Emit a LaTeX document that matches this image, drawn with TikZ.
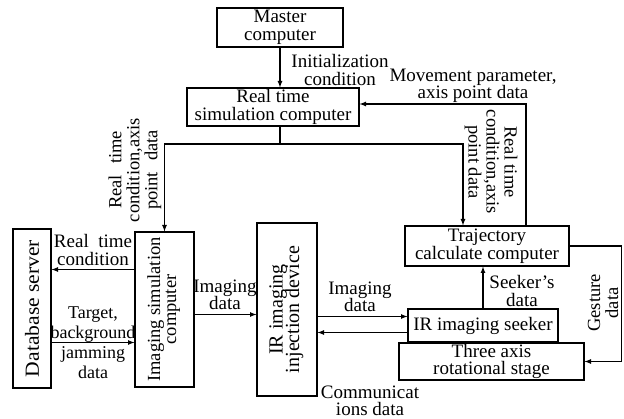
\documentclass[tikz,border=0pt]{standalone}
\usepackage{fontspec}
\setmainfont{Liberation Serif}
\usetikzlibrary{arrows,calc}

\begin{document}
\begin{tikzpicture}[x=1pt,y=-1pt,>=latex,line width=1.2pt,
	font=\fontsize{19}{17.5}\selectfont,
	box/.style={draw,inner sep=0pt,align=center},
	lbl/.style={align=center,inner sep=0pt},
	vlbl/.style={lbl,font=\fontsize{18.5}{18}\selectfont}]
	\useasboundingbox (0,0) rectangle (624,419);
	% blocks
	\node[box,minimum width=126pt,minimum height=39pt] (master) at (280,27.5) {Master\\computer};
	\node[box,minimum width=172pt,minimum height=38pt] (rt) at (273,107) {Real time\\simulation computer};
	\node[box,minimum width=38pt,minimum height=159pt] (db) at (32,308.5)
		{\rotatebox{90}{\fontsize{20}{18}\selectfont\scalebox{1.08}[1]{Database server}}};
	\node[box,minimum width=59pt,minimum height=155pt] (ims) at (164.5,309.5)
		{\rotatebox{90}{\fontsize{18.5}{18}\selectfont\begin{tabular}{@{}c@{}}Imaging simulation\\[-2pt]computer\end{tabular}}};
	\node[box,minimum width=60pt,minimum height=173pt] (inj) at (287,309.5)
		{\rotatebox{90}{\fontsize{20}{19}\selectfont\begin{tabular}{@{}c@{}}IR imaging\\[-3pt]injection device\end{tabular}}};
	\node[box,minimum width=164pt,minimum height=40pt] (traj) at (487,246) {Trajectory\\calculate computer};
	\node[box,minimum width=150pt,minimum height=33pt] (seeker) at (483,325.5) {IR imaging seeker};
	\node[box,minimum width=185pt,minimum height=37pt] (stage) at (491.5,361.5) {Three axis\\rotational stage};
	% labels
	\node[lbl] (init) at (340,70) {Initialization\\condition};
	\node[lbl] (move) at (473,86) {Movement parameter,\\axis point data};
	\node[vlbl,rotate=90] (rtl) at (135,170) {Real\hspace{0.6em}time\\condition,axis\\point\hspace{0.6em}data};
	\node[vlbl,rotate=-90] (rtr) at (491,162) {Real time\\condition,axis\\point data};
	\node[lbl] (rtc) at (93,250) {Real\hspace{0.5em}time\\condition};
	\node[lbl,font=\fontsize{18}{20}\selectfont] (tgt) at (93,343) {Target,\\background\\jamming\\data};
	\node[lbl] (imd) at (225,295) {Imaging\\data};
	\node[lbl] (imd2) at (360,297) {Imaging\\data};
	\node[lbl] (comm) at (370,401) {Communicat\\ions data};
	\node[lbl] (seek) at (522,291) {Seeker's\\data};
	\node[vlbl,rotate=90] (gest) at (603,303) {Gesture\\data};
	% connectors
	\coordinate (split) at (280,144);
	\coordinate (mv) at (526,104);
	\draw[->] (master) -- (master |- rt.north);
	\draw (rt.south -| split) -- (split);
	\draw[->] (split) -| (ims.north);
	\draw[->] (split) -| ([xshift=-24pt]traj.north);
	\draw[->] (traj.north -| mv) |- (rt.east |- mv);
	\draw[->] ([yshift=40pt]ims.west) -- ([yshift=40pt]ims.west -| db.east);
	\draw[->] ([yshift=-34pt]db.east) -- ([yshift=-34pt]db.east -| ims.west);
	\draw[->] ([yshift=-5pt]ims.east) -- ([yshift=-5pt]ims.east -| inj.west);
	\draw[->] ([yshift=9pt]seeker.west -| inj.east) -- ([yshift=9pt]seeker.west);
	\draw[->] ([yshift=-7pt]seeker.west) -- ([yshift=-7pt]seeker.west -| inj.east);
	\draw[->] (seeker) -- (seeker |- traj.south);
	\draw[->] (traj.east) -- ++(52,0) |- (stage.east);
\end{tikzpicture}
\end{document}
